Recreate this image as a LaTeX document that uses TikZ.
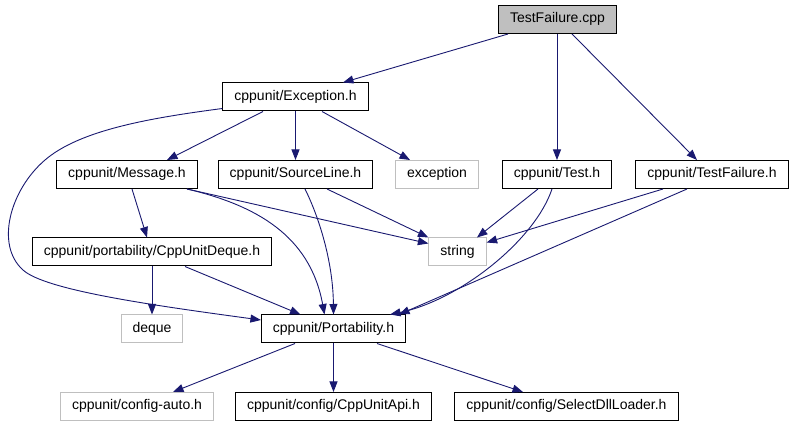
\documentclass[tikz,border=0pt]{standalone}
\usepackage{fontspec}
\setmainfont{Liberation Sans}
\usepackage{tikz}
\usetikzlibrary{arrows.meta, positioning}

\definecolor{edgeblue}{HTML}{191970}
\definecolor{boxgray}{HTML}{BFBFBF}

\begin{document}
\begin{tikzpicture}[
			x=1pt, y=-1pt,
			every node/.style={
				draw=black,
				fill=white,
				rectangle,
				line width=1pt,
				inner xsep=11.5pt,
				inner ysep=0pt,
				minimum height=28pt,
				text height=10pt,
				text depth=3pt,
				font=\fontsize{14}{16}\selectfont
			},
			sysfile/.style={draw=boxgray},
			rootfile/.style={fill=boxgray},
			arrow/.style={-{Triangle[length=10.5pt, width=8pt]}, line width=0.9pt, color=edgeblue}
			]
			\useasboundingbox (0,0) rectangle (793,427);
			
			% -------- Row 0 --------
			\node[rootfile] (cpp) at (557.5,19.5) {TestFailure.cpp};
			
			% -------- Row 1 --------
			\node (exc) at (295.5,97) {cppunit/Exception.h};
			
			% -------- Row 2 --------
			\node (msg) at (127,174.5) {cppunit/Message.h};
			\node (srcl) at (295.5,174.5) {cppunit/SourceLine.h};
			\node[sysfile] (stdexc) at (437,174.5) {exception};
			\node (test) at (557,174.5) {cppunit/Test.h};
			\node (tfail) at (712,174.5) {cppunit/TestFailure.h};
			
			% -------- Row 3 --------
			\node (cudeque) at (152,252) {cppunit/portability/CppUnitDeque.h};
			\node[sysfile] (str) at (457.5,252) {string};
			
			% -------- Row 4 --------
			\node[sysfile] (stddeque) at (152,329) {deque};
			\node (port) at (333.5,329) {cppunit/Portability.h};
			
			% -------- Row 5 --------
			\node[sysfile] (cfgauto) at (137,406.5) {cppunit/config-auto.h};
			\node (cuapi) at (333.5,406.5) {cppunit/config/CppUnitApi.h};
			\node (dllload) at (566.5,406.5) {cppunit/config/SelectDllLoader.h};
			
			% -------- Edges --------
			\draw[arrow] ([xshift=-49.5pt]cpp.south) -- ([xshift=47.5pt]exc.north);
			\draw[arrow] (cpp.south -| test.north) -- (test.north);
			\draw[arrow] ([xshift=14.5pt]cpp.south) -- ([xshift=-15pt]tfail.north);
			
			\draw[arrow] ([xshift=-32.5pt]exc.south) -- ([xshift=40pt]msg.north);
			\draw[arrow] (exc.south) -- (srcl.north);
			\draw[arrow] ([xshift=26.5pt]exc.south) -- ([xshift=-27pt]stdexc.north);
			\draw[arrow] ([yshift=3pt]exc.south west) .. controls (150,118) and (80,130) .. (45,160)
				.. controls (10,190) and (-5,245) .. (23,270)
				.. controls (45,290) and (150,305) .. ([yshift=9pt]port.west);
			
			\draw[arrow] ([xshift=5pt]msg.south) -- ([xshift=-5pt]cudeque.north);
			\draw[arrow] ([xshift=60pt]msg.south) -- ([yshift=-6pt]str.north west);
			\draw[arrow] ([xshift=60pt]msg.south) .. controls (255,205) and (310,235) .. ([xshift=-9pt]port.north);
			
			\draw[arrow] ([xshift=31.5pt]srcl.south) -- (str.north west);
			\draw[arrow] ([xshift=9.5pt]srcl.south) .. controls (318,215) and (333,260) .. (port.north);
			
			\draw[arrow] ([xshift=-19pt]test.south) -- ([xshift=19.5pt]str.north);
			\draw[arrow] ([xshift=-5pt]test.south) .. controls (535,240) and (460,300) .. ([xshift=-16pt]port.north east);
			
			\draw[arrow] ([xshift=-49pt]tfail.south) -- ([yshift=-5pt]str.north east);
			\draw[arrow] ([xshift=-25pt]tfail.south) -- ([xshift=-7pt]port.north east);
			
			\draw[arrow] (cudeque.south) -- (stddeque.north);
			\draw[arrow] ([xshift=33pt]cudeque.south) -- ([xshift=-33pt]port.north);
			
			\draw[arrow] ([xshift=-38.5pt]port.south) -- ([xshift=36pt]cfgauto.north);
			\draw[arrow] (port.south) -- (cuapi.north);
			\draw[arrow] ([xshift=43.5pt]port.south) -- ([xshift=-43.5pt]dllload.north);
			
	\end{tikzpicture}
\end{document}
